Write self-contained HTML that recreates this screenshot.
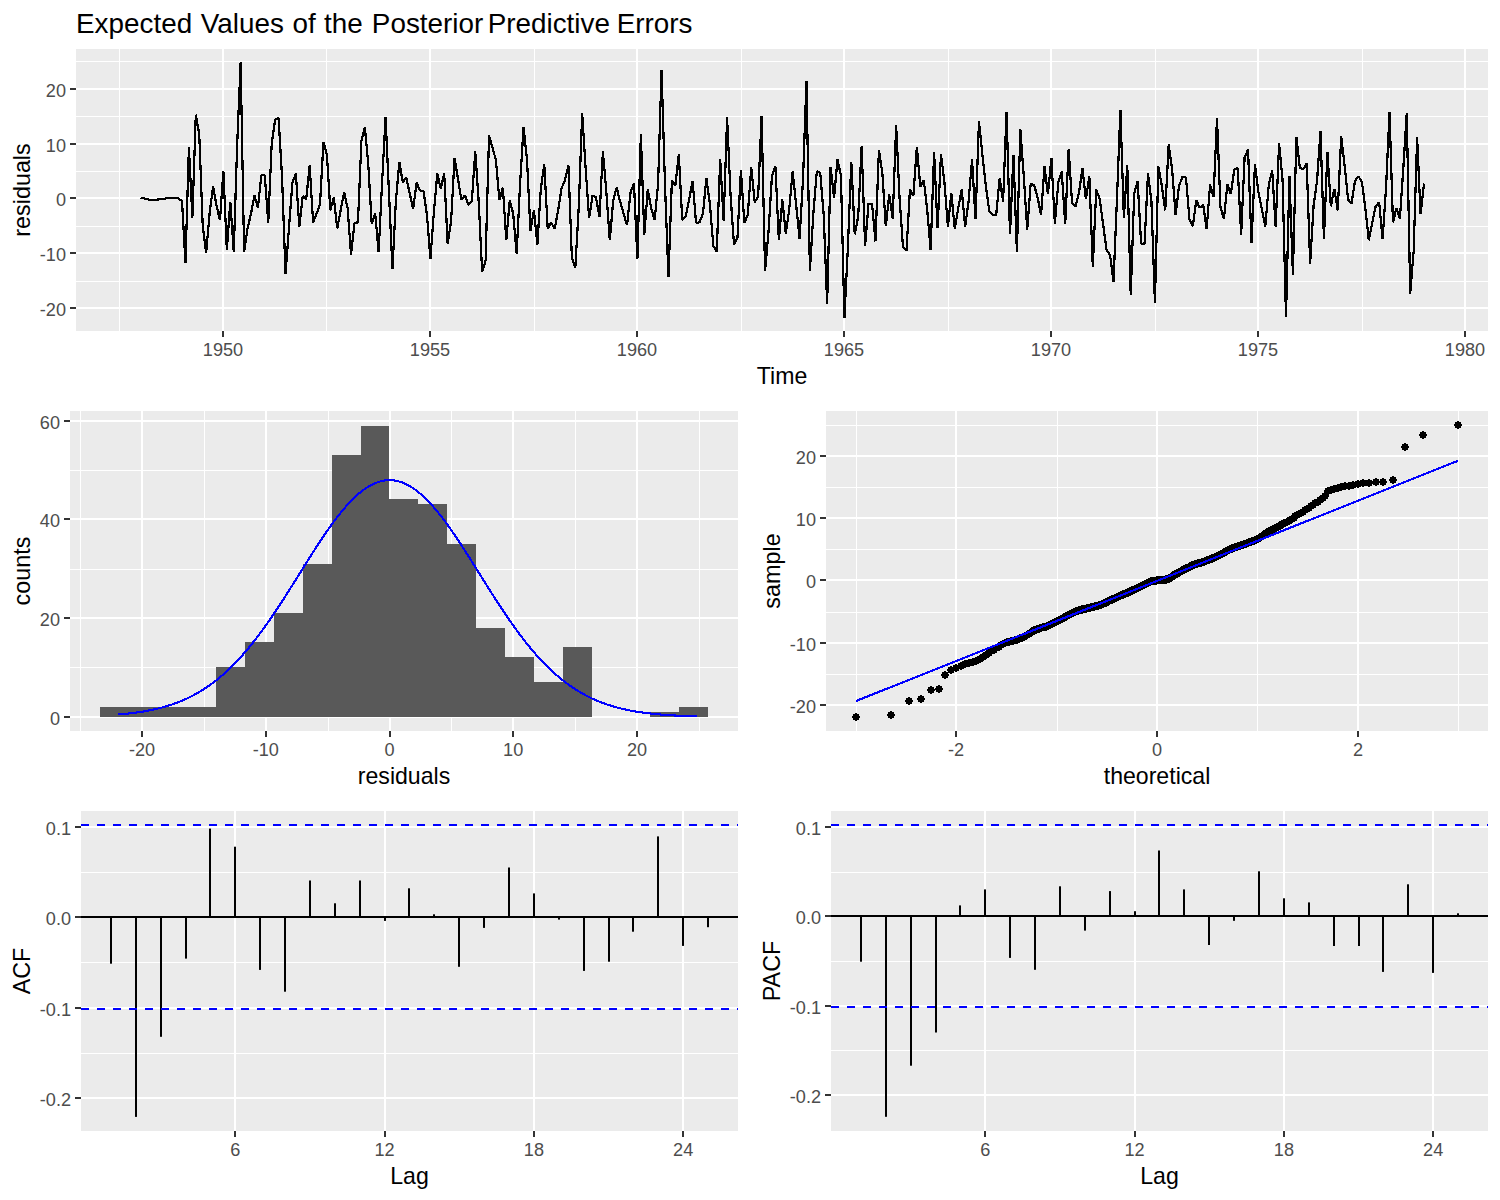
<!DOCTYPE html>
<html><head><meta charset="utf-8"><title>Residual diagnostics</title>
<style>html,body{margin:0;padding:0;background:#fff}svg{display:block}</style></head>
<body><svg width="1500" height="1200" viewBox="0 0 1500 1200">
<style>text{font-family:"Liberation Sans",sans-serif}.at{font-size:17.6px;fill:#4D4D4D}.ax{font-size:23.6px;fill:#000}.ti{font-size:28px;fill:#000}</style>
<rect width="1500" height="1200" fill="#fff"/>
<text transform="translate(76,33) scale(0.995,1)" class="ti">Expected <tspan dx="0.9">Values </tspan><tspan dx="0.9">of </tspan><tspan dx="0.6">the </tspan><tspan dx="1.3">Posterior </tspan><tspan dx="-3.4">Predictive </tspan><tspan dx="-1.0">Errors</tspan></text>
<rect x="76" y="49" width="1412" height="282" fill="#EBEBEB"/>
<rect x="76" y="281" width="1412" height="1" fill="#FFFFFF"/>
<rect x="76" y="226" width="1412" height="1" fill="#FFFFFF"/>
<rect x="76" y="171" width="1412" height="1" fill="#FFFFFF"/>
<rect x="76" y="116" width="1412" height="1" fill="#FFFFFF"/>
<rect x="76" y="61" width="1412" height="1" fill="#FFFFFF"/>
<rect x="119" y="49" width="1" height="282" fill="#FFFFFF"/>
<rect x="326" y="49" width="1" height="282" fill="#FFFFFF"/>
<rect x="534" y="49" width="1" height="282" fill="#FFFFFF"/>
<rect x="741" y="49" width="1" height="282" fill="#FFFFFF"/>
<rect x="948" y="49" width="1" height="282" fill="#FFFFFF"/>
<rect x="1155" y="49" width="1" height="282" fill="#FFFFFF"/>
<rect x="1362" y="49" width="1" height="282" fill="#FFFFFF"/>
<rect x="76" y="307" width="1412" height="2" fill="#FFFFFF"/>
<rect x="76" y="252" width="1412" height="2" fill="#FFFFFF"/>
<rect x="76" y="197" width="1412" height="2" fill="#FFFFFF"/>
<rect x="76" y="143" width="1412" height="2" fill="#FFFFFF"/>
<rect x="76" y="88" width="1412" height="2" fill="#FFFFFF"/>
<rect x="222" y="49" width="2" height="282" fill="#FFFFFF"/>
<rect x="429" y="49" width="2" height="282" fill="#FFFFFF"/>
<rect x="636" y="49" width="2" height="282" fill="#FFFFFF"/>
<rect x="843" y="49" width="2" height="282" fill="#FFFFFF"/>
<rect x="1050" y="49" width="2" height="282" fill="#FFFFFF"/>
<rect x="1257" y="49" width="2" height="282" fill="#FFFFFF"/>
<rect x="1464" y="49" width="2" height="282" fill="#FFFFFF"/>
<polyline points="140.60,197.60 144.05,198.43 147.50,199.26 150.95,200.07 154.40,200.07 157.85,199.53 161.30,198.99 164.75,198.71 168.20,197.88 171.65,197.88 175.10,197.88 178.55,198.43 182.00,201.16 185.45,262.66 188.90,147.02 192.35,217.49 195.80,114.67 199.25,134.30 202.70,225.65 206.15,252.86 209.60,213.68 213.05,186.27 216.50,205.52 219.95,220.21 223.40,171.34 226.85,250.14 230.30,201.71 233.75,251.77 237.20,143.70 240.65,61.87 244.10,251.77 247.55,228.37 251.00,213.68 254.45,195.67 257.90,207.69 261.35,175.21 264.80,175.21 268.25,222.93 271.70,143.70 275.15,119.37 278.60,118.27 282.05,176.87 285.50,274.09 288.95,228.37 292.40,182.95 295.85,173.55 299.30,226.74 302.75,196.22 306.20,199.53 309.65,165.54 313.10,222.39 316.55,213.68 320.00,204.43 323.45,142.04 326.90,154.76 330.35,210.41 333.80,197.33 337.25,228.37 340.70,209.87 344.15,192.35 347.60,208.24 351.05,254.50 354.50,222.93 357.95,222.39 361.40,140.93 364.85,127.39 368.30,164.71 371.75,224.02 375.20,213.68 378.65,252.05 382.10,182.40 385.55,117.16 389.00,193.46 392.45,268.65 395.90,200.62 399.35,162.22 402.80,182.40 406.25,177.42 409.70,193.46 413.15,208.78 416.60,182.68 420.05,190.69 423.50,191.25 426.95,214.77 430.40,258.85 433.85,212.59 437.30,173.55 440.75,188.48 444.20,173.55 447.65,243.61 451.10,221.30 454.55,158.07 458.00,179.08 461.45,200.07 464.90,195.12 468.35,204.97 471.80,201.43 475.25,151.44 478.70,201.71 482.15,271.91 485.60,260.48 489.05,135.41 492.50,147.57 495.95,160.28 499.40,200.07 502.85,187.65 506.30,240.07 509.75,200.35 513.20,213.68 516.65,253.95 520.10,182.95 523.55,127.39 527.00,159.73 530.45,230.82 533.90,210.41 537.35,244.70 540.80,189.03 544.25,164.15 547.70,228.92 551.15,222.39 554.60,228.92 558.05,210.96 561.50,188.48 564.95,180.19 568.40,165.54 571.85,257.22 575.30,268.10 578.75,207.15 582.20,113.29 585.65,168.58 589.10,218.03 592.55,195.67 596.00,197.33 599.45,216.94 602.90,151.44 606.35,191.80 609.80,240.35 613.25,200.07 616.70,187.65 620.15,201.71 623.60,213.68 627.05,225.11 630.50,192.63 633.95,183.51 637.40,258.85 640.85,134.30 644.30,234.90 647.75,189.59 651.20,208.24 654.65,220.21 658.10,183.51 661.55,69.61 665.00,185.16 668.45,276.81 671.90,180.19 675.35,185.72 678.80,154.20 682.25,220.21 685.70,216.40 689.15,199.53 692.60,180.74 696.05,222.93 699.50,222.39 702.95,213.68 706.40,178.25 709.85,203.34 713.30,245.79 716.75,251.77 720.20,159.46 723.65,220.75 727.10,117.44 730.55,195.12 734.00,244.70 737.45,238.17 740.90,170.24 744.35,222.93 747.80,214.77 751.25,167.20 754.70,202.25 758.15,196.22 761.60,116.06 765.05,270.82 768.50,232.18 771.95,175.77 775.40,166.37 778.85,240.07 782.30,199.53 785.75,233.54 789.20,209.87 792.65,171.34 796.10,204.43 799.55,238.71 803.00,179.64 806.45,80.67 809.90,270.82 813.35,213.68 816.80,171.34 820.25,173.00 823.70,214.77 827.15,304.02 830.60,167.20 834.05,197.60 837.50,159.46 840.95,175.77 844.40,317.90 847.85,247.96 851.30,162.22 854.75,234.36 858.20,216.40 861.65,146.46 865.10,246.06 868.55,203.61 872.00,203.61 875.45,241.43 878.90,150.06 882.35,173.00 885.80,226.20 889.25,194.56 892.70,218.85 896.15,125.45 899.60,198.99 903.05,247.42 906.50,250.69 909.95,189.59 913.40,195.67 916.85,146.74 920.30,186.55 923.75,179.91 927.20,209.87 930.65,250.14 934.10,151.99 937.55,228.37 941.00,154.20 944.45,182.40 947.90,226.74 951.35,193.46 954.80,228.92 958.25,208.24 961.70,189.59 965.15,226.74 968.60,201.16 972.05,159.46 975.50,218.85 978.95,121.31 982.40,154.76 985.85,185.72 989.30,211.50 992.75,214.77 996.20,214.77 999.65,178.25 1003.10,201.43 1006.55,111.91 1010.00,234.36 1013.45,155.31 1016.90,252.05 1020.35,129.05 1023.80,176.87 1027.25,229.46 1030.70,183.51 1034.15,185.16 1037.60,197.33 1041.05,214.77 1044.50,166.37 1047.95,194.29 1051.40,158.07 1054.85,224.02 1058.30,182.40 1061.75,171.34 1065.20,224.02 1068.65,149.50 1072.10,203.34 1075.55,206.33 1079.00,192.35 1082.45,168.30 1085.90,198.99 1089.35,176.59 1092.80,266.47 1096.25,189.59 1099.70,198.99 1103.15,224.56 1106.60,250.14 1110.05,255.04 1113.50,281.71 1116.95,198.99 1120.40,109.97 1123.85,218.03 1127.30,165.54 1130.75,295.31 1134.20,193.46 1137.65,181.29 1141.10,243.61 1144.55,243.61 1148.00,173.55 1151.45,201.71 1154.90,302.93 1158.35,166.37 1161.80,185.72 1165.25,210.41 1168.70,144.53 1172.15,169.68 1175.60,214.77 1179.05,185.72 1182.50,176.87 1185.95,177.42 1189.40,218.85 1192.85,226.20 1196.30,200.35 1199.75,207.69 1203.20,204.97 1206.65,228.92 1210.10,184.61 1213.55,196.77 1217.00,117.99 1220.45,207.15 1223.90,218.85 1227.35,184.33 1230.80,194.01 1234.25,169.68 1237.70,167.75 1241.15,234.90 1244.60,157.52 1248.05,149.50 1251.50,242.79 1254.95,164.15 1258.40,191.80 1261.85,209.33 1265.30,226.74 1268.75,185.16 1272.20,170.24 1275.65,226.74 1279.10,143.42 1282.55,179.64 1286.00,316.54 1289.45,176.32 1292.90,274.63 1296.35,137.06 1299.80,168.03 1303.25,169.13 1306.70,163.60 1310.15,263.75 1313.60,205.52 1317.05,180.74 1320.50,131.54 1323.95,239.26 1327.40,151.99 1330.85,206.33 1334.30,188.76 1337.75,210.41 1341.20,136.51 1344.65,165.81 1348.10,199.53 1351.55,203.34 1355.00,180.74 1358.45,176.32 1361.90,181.85 1365.35,208.24 1368.80,240.35 1372.25,222.39 1375.70,206.06 1379.15,202.25 1382.60,239.26 1386.05,187.93 1389.50,112.46 1392.95,222.39 1396.40,208.24 1399.85,218.85 1403.30,168.58 1406.75,113.29 1410.20,293.68 1413.65,251.23 1417.10,137.06 1420.55,214.22 1424.00,183.51" fill="none" stroke="#000" stroke-width="2.2" stroke-linejoin="bevel" stroke-linecap="butt" shape-rendering="crispEdges"/>
<rect x="70" y="307" width="6" height="2" fill="#333333"/>
<text transform="translate(66,315.8) scale(1.03,1)" text-anchor="end" class="at">-20</text>
<rect x="70" y="252" width="6" height="2" fill="#333333"/>
<text transform="translate(66,260.8) scale(1.03,1)" text-anchor="end" class="at">-10</text>
<rect x="70" y="197" width="6" height="2" fill="#333333"/>
<text transform="translate(66,205.8) scale(1.03,1)" text-anchor="end" class="at">0</text>
<rect x="70" y="143" width="6" height="2" fill="#333333"/>
<text transform="translate(66,151.8) scale(1.03,1)" text-anchor="end" class="at">10</text>
<rect x="70" y="88" width="6" height="2" fill="#333333"/>
<text transform="translate(66,96.8) scale(1.03,1)" text-anchor="end" class="at">20</text>
<rect x="222" y="331" width="2" height="6" fill="#333333"/>
<text transform="translate(223.0,356) scale(1.03,1)" text-anchor="middle" class="at">1950</text>
<rect x="429" y="331" width="2" height="6" fill="#333333"/>
<text transform="translate(430.0,356) scale(1.03,1)" text-anchor="middle" class="at">1955</text>
<rect x="636" y="331" width="2" height="6" fill="#333333"/>
<text transform="translate(637.0,356) scale(1.03,1)" text-anchor="middle" class="at">1960</text>
<rect x="843" y="331" width="2" height="6" fill="#333333"/>
<text transform="translate(844.0,356) scale(1.03,1)" text-anchor="middle" class="at">1965</text>
<rect x="1050" y="331" width="2" height="6" fill="#333333"/>
<text transform="translate(1051.0,356) scale(1.03,1)" text-anchor="middle" class="at">1970</text>
<rect x="1257" y="331" width="2" height="6" fill="#333333"/>
<text transform="translate(1258.0,356) scale(1.03,1)" text-anchor="middle" class="at">1975</text>
<rect x="1464" y="331" width="2" height="6" fill="#333333"/>
<text transform="translate(1465.0,356) scale(1.03,1)" text-anchor="middle" class="at">1980</text>
<text transform="translate(782,384) scale(0.979,1)" text-anchor="middle" class="ax">Time</text>
<text transform="translate(30,190) rotate(-90) scale(0.99,1)" text-anchor="middle" class="ax">residuals</text>
<rect x="70" y="411" width="668" height="320" fill="#EBEBEB"/>
<rect x="70" y="667" width="668" height="1" fill="#FFFFFF"/>
<rect x="70" y="569" width="668" height="1" fill="#FFFFFF"/>
<rect x="70" y="470" width="668" height="1" fill="#FFFFFF"/>
<rect x="80" y="411" width="1" height="320" fill="#FFFFFF"/>
<rect x="204" y="411" width="1" height="320" fill="#FFFFFF"/>
<rect x="328" y="411" width="1" height="320" fill="#FFFFFF"/>
<rect x="451" y="411" width="1" height="320" fill="#FFFFFF"/>
<rect x="575" y="411" width="1" height="320" fill="#FFFFFF"/>
<rect x="699" y="411" width="1" height="320" fill="#FFFFFF"/>
<rect x="70" y="716" width="668" height="2" fill="#FFFFFF"/>
<rect x="70" y="617" width="668" height="2" fill="#FFFFFF"/>
<rect x="70" y="518" width="668" height="2" fill="#FFFFFF"/>
<rect x="70" y="420" width="668" height="2" fill="#FFFFFF"/>
<rect x="141" y="411" width="2" height="320" fill="#FFFFFF"/>
<rect x="265" y="411" width="2" height="320" fill="#FFFFFF"/>
<rect x="389" y="411" width="2" height="320" fill="#FFFFFF"/>
<rect x="512" y="411" width="2" height="320" fill="#FFFFFF"/>
<rect x="636" y="411" width="2" height="320" fill="#FFFFFF"/>
<rect x="100" y="707" width="29" height="10" fill="#595959"/>
<rect x="129" y="707" width="29" height="10" fill="#595959"/>
<rect x="158" y="707" width="29" height="10" fill="#595959"/>
<rect x="187" y="707" width="29" height="10" fill="#595959"/>
<rect x="216" y="667" width="29" height="50" fill="#595959"/>
<rect x="245" y="642" width="29" height="75" fill="#595959"/>
<rect x="274" y="613" width="29" height="104" fill="#595959"/>
<rect x="303" y="564" width="29" height="153" fill="#595959"/>
<rect x="332" y="455" width="29" height="262" fill="#595959"/>
<rect x="361" y="426" width="28" height="291" fill="#595959"/>
<rect x="389" y="499" width="29" height="218" fill="#595959"/>
<rect x="418" y="504" width="29" height="213" fill="#595959"/>
<rect x="447" y="544" width="29" height="173" fill="#595959"/>
<rect x="476" y="628" width="29" height="89" fill="#595959"/>
<rect x="505" y="657" width="29" height="60" fill="#595959"/>
<rect x="534" y="682" width="29" height="35" fill="#595959"/>
<rect x="563" y="647" width="29" height="70" fill="#595959"/>
<rect x="650" y="712" width="29" height="5" fill="#595959"/>
<rect x="679" y="707" width="29" height="10" fill="#595959"/>
<polyline points="118.49,714.53 121.38,714.28 124.27,714.00 127.17,713.70 130.06,713.38 132.95,713.03 135.84,712.65 138.74,712.23 141.63,711.79 144.52,711.31 147.41,710.78 150.31,710.22 153.20,709.62 156.09,708.97 158.98,708.27 161.88,707.52 164.77,706.72 167.66,705.86 170.56,704.94 173.45,703.96 176.34,702.92 179.23,701.80 182.13,700.62 185.02,699.36 187.91,698.02 190.80,696.61 193.70,695.11 196.59,693.53 199.48,691.86 202.37,690.09 205.27,688.24 208.16,686.28 211.05,684.23 213.95,682.08 216.84,679.83 219.73,677.47 222.62,675.00 225.52,672.43 228.41,669.75 231.30,666.96 234.19,664.06 237.09,661.05 239.98,657.93 242.87,654.70 245.76,651.36 248.66,647.92 251.55,644.37 254.44,640.72 257.34,636.97 260.23,633.12 263.12,629.18 266.01,625.14 268.91,621.03 271.80,616.83 274.69,612.55 277.58,608.21 280.48,603.80 283.37,599.34 286.26,594.83 289.15,590.28 292.05,585.70 294.94,581.09 297.83,576.46 300.72,571.83 303.62,567.20 306.51,562.59 309.40,558.00 312.30,553.44 315.19,548.92 318.08,544.47 320.97,540.07 323.87,535.75 326.76,531.53 329.65,527.39 332.54,523.37 335.44,519.47 338.33,515.70 341.22,512.07 344.11,508.59 347.01,505.28 349.90,502.13 352.79,499.17 355.69,496.39 358.58,493.81 361.47,491.43 364.36,489.26 367.26,487.32 370.15,485.59 373.04,484.10 375.93,482.84 378.83,481.82 381.72,481.04 384.61,480.50 387.50,480.21 390.40,480.16 393.29,480.36 396.18,480.80 399.08,481.49 401.97,482.42 404.86,483.59 407.75,485.00 410.65,486.64 413.54,488.50 416.43,490.58 419.32,492.88 422.22,495.38 425.11,498.09 428.00,500.98 430.89,504.06 433.79,507.32 436.68,510.73 439.57,514.31 442.47,518.02 445.36,521.88 448.25,525.85 451.14,529.94 454.04,534.14 456.93,538.42 459.82,542.79 462.71,547.22 465.61,551.72 468.50,556.26 471.39,560.84 474.28,565.45 477.18,570.07 480.07,574.70 482.96,579.33 485.85,583.95 488.75,588.54 491.64,593.11 494.53,597.64 497.43,602.12 500.32,606.54 503.21,610.91 506.10,615.21 509.00,619.44 511.89,623.59 514.78,627.66 517.67,631.63 520.57,635.52 523.46,639.31 526.35,643.00 529.24,646.59 532.14,650.07 535.03,653.45 537.92,656.72 540.82,659.88 543.71,662.93 546.60,665.87 549.49,668.70 552.39,671.42 555.28,674.04 558.17,676.54 561.06,678.94 563.96,681.24 566.85,683.43 569.74,685.52 572.63,687.51 575.53,689.40 578.42,691.20 581.31,692.90 584.21,694.52 587.10,696.05 589.99,697.50 592.88,698.86 595.78,700.15 598.67,701.36 601.56,702.50 604.45,703.57 607.35,704.58 610.24,705.52 613.13,706.40 616.02,707.22 618.92,707.99 621.81,708.71 624.70,709.38 627.60,710.00 630.49,710.58 633.38,711.11 636.27,711.61 639.17,712.07 642.06,712.49 644.95,712.89 647.84,713.25 650.74,713.58 653.63,713.89 656.52,714.17 659.41,714.43 662.31,714.67 665.20,714.89 668.09,715.09 670.98,715.27 673.88,715.44 676.77,715.59 679.66,715.73 682.56,715.86 685.45,715.97 688.34,716.08 691.23,716.17 694.13,716.26 697.02,716.33" fill="none" stroke="#0000FF" stroke-width="2.1" shape-rendering="crispEdges"/>
<rect x="64" y="716" width="6" height="2" fill="#333333"/>
<text transform="translate(60,724.8) scale(1.03,1)" text-anchor="end" class="at">0</text>
<rect x="64" y="617" width="6" height="2" fill="#333333"/>
<text transform="translate(60,625.8) scale(1.03,1)" text-anchor="end" class="at">20</text>
<rect x="64" y="518" width="6" height="2" fill="#333333"/>
<text transform="translate(60,526.8) scale(1.03,1)" text-anchor="end" class="at">40</text>
<rect x="64" y="420" width="6" height="2" fill="#333333"/>
<text transform="translate(60,428.8) scale(1.03,1)" text-anchor="end" class="at">60</text>
<rect x="141" y="731" width="2" height="6" fill="#333333"/>
<text transform="translate(142.0,756) scale(1.03,1)" text-anchor="middle" class="at">-20</text>
<rect x="265" y="731" width="2" height="6" fill="#333333"/>
<text transform="translate(265.8,756) scale(1.03,1)" text-anchor="middle" class="at">-10</text>
<rect x="389" y="731" width="2" height="6" fill="#333333"/>
<text transform="translate(389.5,756) scale(1.03,1)" text-anchor="middle" class="at">0</text>
<rect x="512" y="731" width="2" height="6" fill="#333333"/>
<text transform="translate(513.2,756) scale(1.03,1)" text-anchor="middle" class="at">10</text>
<rect x="636" y="731" width="2" height="6" fill="#333333"/>
<text transform="translate(637.0,756) scale(1.03,1)" text-anchor="middle" class="at">20</text>
<text transform="translate(404,784) scale(0.979,1)" text-anchor="middle" class="ax">residuals</text>
<text transform="translate(30,571) rotate(-90) scale(0.99,1)" text-anchor="middle" class="ax">counts</text>
<rect x="826" y="411" width="662" height="320" fill="#EBEBEB"/>
<rect x="826" y="674" width="662" height="1" fill="#FFFFFF"/>
<rect x="826" y="612" width="662" height="1" fill="#FFFFFF"/>
<rect x="826" y="549" width="662" height="1" fill="#FFFFFF"/>
<rect x="826" y="487" width="662" height="1" fill="#FFFFFF"/>
<rect x="826" y="425" width="662" height="1" fill="#FFFFFF"/>
<rect x="856" y="411" width="1" height="320" fill="#FFFFFF"/>
<rect x="1057" y="411" width="1" height="320" fill="#FFFFFF"/>
<rect x="1257" y="411" width="1" height="320" fill="#FFFFFF"/>
<rect x="1458" y="411" width="1" height="320" fill="#FFFFFF"/>
<rect x="826" y="704" width="662" height="2" fill="#FFFFFF"/>
<rect x="826" y="642" width="662" height="2" fill="#FFFFFF"/>
<rect x="826" y="579" width="662" height="2" fill="#FFFFFF"/>
<rect x="826" y="517" width="662" height="2" fill="#FFFFFF"/>
<rect x="826" y="455" width="662" height="2" fill="#FFFFFF"/>
<rect x="955" y="411" width="2" height="320" fill="#FFFFFF"/>
<rect x="1156" y="411" width="2" height="320" fill="#FFFFFF"/>
<rect x="1357" y="411" width="2" height="320" fill="#FFFFFF"/>
<path fill="#000" d="M855 713h2v1h2v2h1v2h-1v2h-2v1h-2v-1h-2v-2h-1v-2h1v-2h2zM890 711h2v1h2v2h1v2h-1v2h-2v1h-2v-1h-2v-2h-1v-2h1v-2h2zM908 697h2v1h2v2h1v2h-1v2h-2v1h-2v-1h-2v-2h-1v-2h1v-2h2zM920 695h2v1h2v2h1v2h-1v2h-2v1h-2v-1h-2v-2h-1v-2h1v-2h2zM930 686h2v1h2v2h1v2h-1v2h-2v1h-2v-1h-2v-2h-1v-2h1v-2h2zM938 685h2v1h2v2h1v2h-1v2h-2v1h-2v-1h-2v-2h-1v-2h1v-2h2zM944 671h2v1h2v2h1v2h-1v2h-2v1h-2v-1h-2v-2h-1v-2h1v-2h2zM950 666h2v1h2v2h1v2h-1v2h-2v1h-2v-1h-2v-2h-1v-2h1v-2h2zM955 664h2v1h2v2h1v2h-1v2h-2v1h-2v-1h-2v-2h-1v-2h1v-2h2zM960 662h2v1h2v2h1v2h-1v2h-2v1h-2v-1h-2v-2h-1v-2h1v-2h2zM964 660h2v1h2v2h1v2h-1v2h-2v1h-2v-1h-2v-2h-1v-2h1v-2h2zM968 659h2v1h2v2h1v2h-1v2h-2v1h-2v-1h-2v-2h-1v-2h1v-2h2zM972 658h2v1h2v2h1v2h-1v2h-2v1h-2v-1h-2v-2h-1v-2h1v-2h2zM975 657h2v1h2v2h1v2h-1v2h-2v1h-2v-1h-2v-2h-1v-2h1v-2h2zM979 655h2v1h2v2h1v2h-1v2h-2v1h-2v-1h-2v-2h-1v-2h1v-2h2zM982 653h2v1h2v2h1v2h-1v2h-2v1h-2v-1h-2v-2h-1v-2h1v-2h2zM985 651h2v1h2v2h1v2h-1v2h-2v1h-2v-1h-2v-2h-1v-2h1v-2h2zM988 649h2v1h2v2h1v2h-1v2h-2v1h-2v-1h-2v-2h-1v-2h1v-2h2zM990 647h2v1h2v2h1v2h-1v2h-2v1h-2v-1h-2v-2h-1v-2h1v-2h2zM993 646h2v1h2v2h1v2h-1v2h-2v1h-2v-1h-2v-2h-1v-2h1v-2h2zM995 644h2v1h2v2h1v2h-1v2h-2v1h-2v-1h-2v-2h-1v-2h1v-2h2zM998 643h2v1h2v2h1v2h-1v2h-2v1h-2v-1h-2v-2h-1v-2h1v-2h2zM1000 641h2v1h2v2h1v2h-1v2h-2v1h-2v-1h-2v-2h-1v-2h1v-2h2zM1002 640h2v1h2v2h1v2h-1v2h-2v1h-2v-1h-2v-2h-1v-2h1v-2h2zM1004 639h2v1h2v2h1v2h-1v2h-2v1h-2v-1h-2v-2h-1v-2h1v-2h2zM1006 638h2v1h2v2h1v2h-1v2h-2v1h-2v-1h-2v-2h-1v-2h1v-2h2zM1008 638h2v1h2v2h1v2h-1v2h-2v1h-2v-1h-2v-2h-1v-2h1v-2h2zM1010 637h2v1h2v2h1v2h-1v2h-2v1h-2v-1h-2v-2h-1v-2h1v-2h2zM1012 637h2v1h2v2h1v2h-1v2h-2v1h-2v-1h-2v-2h-1v-2h1v-2h2zM1014 636h2v1h2v2h1v2h-1v2h-2v1h-2v-1h-2v-2h-1v-2h1v-2h2zM1016 636h2v1h2v2h1v2h-1v2h-2v1h-2v-1h-2v-2h-1v-2h1v-2h2zM1018 635h2v1h2v2h1v2h-1v2h-2v1h-2v-1h-2v-2h-1v-2h1v-2h2zM1019 634h2v1h2v2h1v2h-1v2h-2v1h-2v-1h-2v-2h-1v-2h1v-2h2zM1021 634h2v1h2v2h1v2h-1v2h-2v1h-2v-1h-2v-2h-1v-2h1v-2h2zM1023 633h2v1h2v2h1v2h-1v2h-2v1h-2v-1h-2v-2h-1v-2h1v-2h2zM1024 632h2v1h2v2h1v2h-1v2h-2v1h-2v-1h-2v-2h-1v-2h1v-2h2zM1026 631h2v1h2v2h1v2h-1v2h-2v1h-2v-1h-2v-2h-1v-2h1v-2h2zM1028 630h2v1h2v2h1v2h-1v2h-2v1h-2v-1h-2v-2h-1v-2h1v-2h2zM1029 629h2v1h2v2h1v2h-1v2h-2v1h-2v-1h-2v-2h-1v-2h1v-2h2zM1031 628h2v1h2v2h1v2h-1v2h-2v1h-2v-1h-2v-2h-1v-2h1v-2h2zM1032 627h2v1h2v2h1v2h-1v2h-2v1h-2v-1h-2v-2h-1v-2h1v-2h2zM1033 626h2v1h2v2h1v2h-1v2h-2v1h-2v-1h-2v-2h-1v-2h1v-2h2zM1035 626h2v1h2v2h1v2h-1v2h-2v1h-2v-1h-2v-2h-1v-2h1v-2h2zM1036 625h2v1h2v2h1v2h-1v2h-2v1h-2v-1h-2v-2h-1v-2h1v-2h2zM1038 625h2v1h2v2h1v2h-1v2h-2v1h-2v-1h-2v-2h-1v-2h1v-2h2zM1039 624h2v1h2v2h1v2h-1v2h-2v1h-2v-1h-2v-2h-1v-2h1v-2h2zM1040 624h2v1h2v2h1v2h-1v2h-2v1h-2v-1h-2v-2h-1v-2h1v-2h2zM1042 623h2v1h2v2h1v2h-1v2h-2v1h-2v-1h-2v-2h-1v-2h1v-2h2zM1043 623h2v1h2v2h1v2h-1v2h-2v1h-2v-1h-2v-2h-1v-2h1v-2h2zM1044 623h2v1h2v2h1v2h-1v2h-2v1h-2v-1h-2v-2h-1v-2h1v-2h2zM1045 623h2v1h2v2h1v2h-1v2h-2v1h-2v-1h-2v-2h-1v-2h1v-2h2zM1047 622h2v1h2v2h1v2h-1v2h-2v1h-2v-1h-2v-2h-1v-2h1v-2h2zM1048 621h2v1h2v2h1v2h-1v2h-2v1h-2v-1h-2v-2h-1v-2h1v-2h2zM1049 621h2v1h2v2h1v2h-1v2h-2v1h-2v-1h-2v-2h-1v-2h1v-2h2zM1050 620h2v1h2v2h1v2h-1v2h-2v1h-2v-1h-2v-2h-1v-2h1v-2h2zM1051 620h2v1h2v2h1v2h-1v2h-2v1h-2v-1h-2v-2h-1v-2h1v-2h2zM1052 619h2v1h2v2h1v2h-1v2h-2v1h-2v-1h-2v-2h-1v-2h1v-2h2zM1054 618h2v1h2v2h1v2h-1v2h-2v1h-2v-1h-2v-2h-1v-2h1v-2h2zM1055 618h2v1h2v2h1v2h-1v2h-2v1h-2v-1h-2v-2h-1v-2h1v-2h2zM1056 617h2v1h2v2h1v2h-1v2h-2v1h-2v-1h-2v-2h-1v-2h1v-2h2zM1057 617h2v1h2v2h1v2h-1v2h-2v1h-2v-1h-2v-2h-1v-2h1v-2h2zM1058 616h2v1h2v2h1v2h-1v2h-2v1h-2v-1h-2v-2h-1v-2h1v-2h2zM1059 616h2v1h2v2h1v2h-1v2h-2v1h-2v-1h-2v-2h-1v-2h1v-2h2zM1060 615h2v1h2v2h1v2h-1v2h-2v1h-2v-1h-2v-2h-1v-2h1v-2h2zM1061 615h2v1h2v2h1v2h-1v2h-2v1h-2v-1h-2v-2h-1v-2h1v-2h2zM1062 614h2v1h2v2h1v2h-1v2h-2v1h-2v-1h-2v-2h-1v-2h1v-2h2zM1063 614h2v1h2v2h1v2h-1v2h-2v1h-2v-1h-2v-2h-1v-2h1v-2h2zM1064 613h2v1h2v2h1v2h-1v2h-2v1h-2v-1h-2v-2h-1v-2h1v-2h2zM1065 612h2v1h2v2h1v2h-1v2h-2v1h-2v-1h-2v-2h-1v-2h1v-2h2zM1066 612h2v1h2v2h1v2h-1v2h-2v1h-2v-1h-2v-2h-1v-2h1v-2h2zM1067 611h2v1h2v2h1v2h-1v2h-2v1h-2v-1h-2v-2h-1v-2h1v-2h2zM1068 611h2v1h2v2h1v2h-1v2h-2v1h-2v-1h-2v-2h-1v-2h1v-2h2zM1069 610h2v1h2v2h1v2h-1v2h-2v1h-2v-1h-2v-2h-1v-2h1v-2h2zM1070 610h2v1h2v2h1v2h-1v2h-2v1h-2v-1h-2v-2h-1v-2h1v-2h2zM1071 609h2v1h2v2h1v2h-1v2h-2v1h-2v-1h-2v-2h-1v-2h1v-2h2zM1072 609h2v1h2v2h1v2h-1v2h-2v1h-2v-1h-2v-2h-1v-2h1v-2h2zM1073 608h2v1h2v2h1v2h-1v2h-2v1h-2v-1h-2v-2h-1v-2h1v-2h2zM1074 608h2v1h2v2h1v2h-1v2h-2v1h-2v-1h-2v-2h-1v-2h1v-2h2zM1075 607h2v1h2v2h1v2h-1v2h-2v1h-2v-1h-2v-2h-1v-2h1v-2h2zM1076 607h2v1h2v2h1v2h-1v2h-2v1h-2v-1h-2v-2h-1v-2h1v-2h2zM1077 607h2v1h2v2h1v2h-1v2h-2v1h-2v-1h-2v-2h-1v-2h1v-2h2zM1078 606h2v1h2v2h1v2h-1v2h-2v1h-2v-1h-2v-2h-1v-2h1v-2h2zM1079 606h2v1h2v2h1v2h-1v2h-2v1h-2v-1h-2v-2h-1v-2h1v-2h2zM1080 606h2v1h2v2h1v2h-1v2h-2v1h-2v-1h-2v-2h-1v-2h1v-2h2zM1081 606h2v1h2v2h1v2h-1v2h-2v1h-2v-1h-2v-2h-1v-2h1v-2h2zM1081 605h2v1h2v2h1v2h-1v2h-2v1h-2v-1h-2v-2h-1v-2h1v-2h2zM1082 605h2v1h2v2h1v2h-1v2h-2v1h-2v-1h-2v-2h-1v-2h1v-2h2zM1083 605h2v1h2v2h1v2h-1v2h-2v1h-2v-1h-2v-2h-1v-2h1v-2h2zM1084 605h2v1h2v2h1v2h-1v2h-2v1h-2v-1h-2v-2h-1v-2h1v-2h2zM1085 605h2v1h2v2h1v2h-1v2h-2v1h-2v-1h-2v-2h-1v-2h1v-2h2zM1086 604h2v1h2v2h1v2h-1v2h-2v1h-2v-1h-2v-2h-1v-2h1v-2h2zM1087 604h2v1h2v2h1v2h-1v2h-2v1h-2v-1h-2v-2h-1v-2h1v-2h2zM1088 604h2v1h2v2h1v2h-1v2h-2v1h-2v-1h-2v-2h-1v-2h1v-2h2zM1088 604h2v1h2v2h1v2h-1v2h-2v1h-2v-1h-2v-2h-1v-2h1v-2h2zM1089 604h2v1h2v2h1v2h-1v2h-2v1h-2v-1h-2v-2h-1v-2h1v-2h2zM1090 603h2v1h2v2h1v2h-1v2h-2v1h-2v-1h-2v-2h-1v-2h1v-2h2zM1091 603h2v1h2v2h1v2h-1v2h-2v1h-2v-1h-2v-2h-1v-2h1v-2h2zM1092 603h2v1h2v2h1v2h-1v2h-2v1h-2v-1h-2v-2h-1v-2h1v-2h2zM1093 603h2v1h2v2h1v2h-1v2h-2v1h-2v-1h-2v-2h-1v-2h1v-2h2zM1093 603h2v1h2v2h1v2h-1v2h-2v1h-2v-1h-2v-2h-1v-2h1v-2h2zM1094 602h2v1h2v2h1v2h-1v2h-2v1h-2v-1h-2v-2h-1v-2h1v-2h2zM1095 602h2v1h2v2h1v2h-1v2h-2v1h-2v-1h-2v-2h-1v-2h1v-2h2zM1096 602h2v1h2v2h1v2h-1v2h-2v1h-2v-1h-2v-2h-1v-2h1v-2h2zM1097 602h2v1h2v2h1v2h-1v2h-2v1h-2v-1h-2v-2h-1v-2h1v-2h2zM1097 602h2v1h2v2h1v2h-1v2h-2v1h-2v-1h-2v-2h-1v-2h1v-2h2zM1098 601h2v1h2v2h1v2h-1v2h-2v1h-2v-1h-2v-2h-1v-2h1v-2h2zM1099 601h2v1h2v2h1v2h-1v2h-2v1h-2v-1h-2v-2h-1v-2h1v-2h2zM1100 601h2v1h2v2h1v2h-1v2h-2v1h-2v-1h-2v-2h-1v-2h1v-2h2zM1101 600h2v1h2v2h1v2h-1v2h-2v1h-2v-1h-2v-2h-1v-2h1v-2h2zM1101 600h2v1h2v2h1v2h-1v2h-2v1h-2v-1h-2v-2h-1v-2h1v-2h2zM1102 600h2v1h2v2h1v2h-1v2h-2v1h-2v-1h-2v-2h-1v-2h1v-2h2zM1103 599h2v1h2v2h1v2h-1v2h-2v1h-2v-1h-2v-2h-1v-2h1v-2h2zM1104 599h2v1h2v2h1v2h-1v2h-2v1h-2v-1h-2v-2h-1v-2h1v-2h2zM1105 599h2v1h2v2h1v2h-1v2h-2v1h-2v-1h-2v-2h-1v-2h1v-2h2zM1105 598h2v1h2v2h1v2h-1v2h-2v1h-2v-1h-2v-2h-1v-2h1v-2h2zM1106 598h2v1h2v2h1v2h-1v2h-2v1h-2v-1h-2v-2h-1v-2h1v-2h2zM1107 597h2v1h2v2h1v2h-1v2h-2v1h-2v-1h-2v-2h-1v-2h1v-2h2zM1108 597h2v1h2v2h1v2h-1v2h-2v1h-2v-1h-2v-2h-1v-2h1v-2h2zM1108 597h2v1h2v2h1v2h-1v2h-2v1h-2v-1h-2v-2h-1v-2h1v-2h2zM1109 596h2v1h2v2h1v2h-1v2h-2v1h-2v-1h-2v-2h-1v-2h1v-2h2zM1110 596h2v1h2v2h1v2h-1v2h-2v1h-2v-1h-2v-2h-1v-2h1v-2h2zM1111 596h2v1h2v2h1v2h-1v2h-2v1h-2v-1h-2v-2h-1v-2h1v-2h2zM1111 595h2v1h2v2h1v2h-1v2h-2v1h-2v-1h-2v-2h-1v-2h1v-2h2zM1112 595h2v1h2v2h1v2h-1v2h-2v1h-2v-1h-2v-2h-1v-2h1v-2h2zM1113 595h2v1h2v2h1v2h-1v2h-2v1h-2v-1h-2v-2h-1v-2h1v-2h2zM1114 594h2v1h2v2h1v2h-1v2h-2v1h-2v-1h-2v-2h-1v-2h1v-2h2zM1114 594h2v1h2v2h1v2h-1v2h-2v1h-2v-1h-2v-2h-1v-2h1v-2h2zM1115 594h2v1h2v2h1v2h-1v2h-2v1h-2v-1h-2v-2h-1v-2h1v-2h2zM1116 593h2v1h2v2h1v2h-1v2h-2v1h-2v-1h-2v-2h-1v-2h1v-2h2zM1117 593h2v1h2v2h1v2h-1v2h-2v1h-2v-1h-2v-2h-1v-2h1v-2h2zM1117 593h2v1h2v2h1v2h-1v2h-2v1h-2v-1h-2v-2h-1v-2h1v-2h2zM1118 592h2v1h2v2h1v2h-1v2h-2v1h-2v-1h-2v-2h-1v-2h1v-2h2zM1119 592h2v1h2v2h1v2h-1v2h-2v1h-2v-1h-2v-2h-1v-2h1v-2h2zM1119 592h2v1h2v2h1v2h-1v2h-2v1h-2v-1h-2v-2h-1v-2h1v-2h2zM1120 591h2v1h2v2h1v2h-1v2h-2v1h-2v-1h-2v-2h-1v-2h1v-2h2zM1121 591h2v1h2v2h1v2h-1v2h-2v1h-2v-1h-2v-2h-1v-2h1v-2h2zM1122 591h2v1h2v2h1v2h-1v2h-2v1h-2v-1h-2v-2h-1v-2h1v-2h2zM1122 590h2v1h2v2h1v2h-1v2h-2v1h-2v-1h-2v-2h-1v-2h1v-2h2zM1123 590h2v1h2v2h1v2h-1v2h-2v1h-2v-1h-2v-2h-1v-2h1v-2h2zM1124 590h2v1h2v2h1v2h-1v2h-2v1h-2v-1h-2v-2h-1v-2h1v-2h2zM1124 590h2v1h2v2h1v2h-1v2h-2v1h-2v-1h-2v-2h-1v-2h1v-2h2zM1125 589h2v1h2v2h1v2h-1v2h-2v1h-2v-1h-2v-2h-1v-2h1v-2h2zM1126 589h2v1h2v2h1v2h-1v2h-2v1h-2v-1h-2v-2h-1v-2h1v-2h2zM1127 589h2v1h2v2h1v2h-1v2h-2v1h-2v-1h-2v-2h-1v-2h1v-2h2zM1127 588h2v1h2v2h1v2h-1v2h-2v1h-2v-1h-2v-2h-1v-2h1v-2h2zM1128 588h2v1h2v2h1v2h-1v2h-2v1h-2v-1h-2v-2h-1v-2h1v-2h2zM1129 588h2v1h2v2h1v2h-1v2h-2v1h-2v-1h-2v-2h-1v-2h1v-2h2zM1129 587h2v1h2v2h1v2h-1v2h-2v1h-2v-1h-2v-2h-1v-2h1v-2h2zM1130 587h2v1h2v2h1v2h-1v2h-2v1h-2v-1h-2v-2h-1v-2h1v-2h2zM1131 587h2v1h2v2h1v2h-1v2h-2v1h-2v-1h-2v-2h-1v-2h1v-2h2zM1131 586h2v1h2v2h1v2h-1v2h-2v1h-2v-1h-2v-2h-1v-2h1v-2h2zM1132 586h2v1h2v2h1v2h-1v2h-2v1h-2v-1h-2v-2h-1v-2h1v-2h2zM1133 586h2v1h2v2h1v2h-1v2h-2v1h-2v-1h-2v-2h-1v-2h1v-2h2zM1134 585h2v1h2v2h1v2h-1v2h-2v1h-2v-1h-2v-2h-1v-2h1v-2h2zM1134 585h2v1h2v2h1v2h-1v2h-2v1h-2v-1h-2v-2h-1v-2h1v-2h2zM1135 585h2v1h2v2h1v2h-1v2h-2v1h-2v-1h-2v-2h-1v-2h1v-2h2zM1136 584h2v1h2v2h1v2h-1v2h-2v1h-2v-1h-2v-2h-1v-2h1v-2h2zM1136 584h2v1h2v2h1v2h-1v2h-2v1h-2v-1h-2v-2h-1v-2h1v-2h2zM1137 584h2v1h2v2h1v2h-1v2h-2v1h-2v-1h-2v-2h-1v-2h1v-2h2zM1138 583h2v1h2v2h1v2h-1v2h-2v1h-2v-1h-2v-2h-1v-2h1v-2h2zM1138 583h2v1h2v2h1v2h-1v2h-2v1h-2v-1h-2v-2h-1v-2h1v-2h2zM1139 583h2v1h2v2h1v2h-1v2h-2v1h-2v-1h-2v-2h-1v-2h1v-2h2zM1140 582h2v1h2v2h1v2h-1v2h-2v1h-2v-1h-2v-2h-1v-2h1v-2h2zM1140 582h2v1h2v2h1v2h-1v2h-2v1h-2v-1h-2v-2h-1v-2h1v-2h2zM1141 582h2v1h2v2h1v2h-1v2h-2v1h-2v-1h-2v-2h-1v-2h1v-2h2zM1142 581h2v1h2v2h1v2h-1v2h-2v1h-2v-1h-2v-2h-1v-2h1v-2h2zM1142 581h2v1h2v2h1v2h-1v2h-2v1h-2v-1h-2v-2h-1v-2h1v-2h2zM1143 581h2v1h2v2h1v2h-1v2h-2v1h-2v-1h-2v-2h-1v-2h1v-2h2zM1144 580h2v1h2v2h1v2h-1v2h-2v1h-2v-1h-2v-2h-1v-2h1v-2h2zM1144 580h2v1h2v2h1v2h-1v2h-2v1h-2v-1h-2v-2h-1v-2h1v-2h2zM1145 580h2v1h2v2h1v2h-1v2h-2v1h-2v-1h-2v-2h-1v-2h1v-2h2zM1146 579h2v1h2v2h1v2h-1v2h-2v1h-2v-1h-2v-2h-1v-2h1v-2h2zM1147 579h2v1h2v2h1v2h-1v2h-2v1h-2v-1h-2v-2h-1v-2h1v-2h2zM1147 579h2v1h2v2h1v2h-1v2h-2v1h-2v-1h-2v-2h-1v-2h1v-2h2zM1148 578h2v1h2v2h1v2h-1v2h-2v1h-2v-1h-2v-2h-1v-2h1v-2h2zM1149 578h2v1h2v2h1v2h-1v2h-2v1h-2v-1h-2v-2h-1v-2h1v-2h2zM1149 578h2v1h2v2h1v2h-1v2h-2v1h-2v-1h-2v-2h-1v-2h1v-2h2zM1150 577h2v1h2v2h1v2h-1v2h-2v1h-2v-1h-2v-2h-1v-2h1v-2h2zM1151 577h2v1h2v2h1v2h-1v2h-2v1h-2v-1h-2v-2h-1v-2h1v-2h2zM1151 577h2v1h2v2h1v2h-1v2h-2v1h-2v-1h-2v-2h-1v-2h1v-2h2zM1152 577h2v1h2v2h1v2h-1v2h-2v1h-2v-1h-2v-2h-1v-2h1v-2h2zM1153 577h2v1h2v2h1v2h-1v2h-2v1h-2v-1h-2v-2h-1v-2h1v-2h2zM1153 577h2v1h2v2h1v2h-1v2h-2v1h-2v-1h-2v-2h-1v-2h1v-2h2zM1154 577h2v1h2v2h1v2h-1v2h-2v1h-2v-1h-2v-2h-1v-2h1v-2h2zM1155 577h2v1h2v2h1v2h-1v2h-2v1h-2v-1h-2v-2h-1v-2h1v-2h2zM1155 577h2v1h2v2h1v2h-1v2h-2v1h-2v-1h-2v-2h-1v-2h1v-2h2zM1156 576h2v1h2v2h1v2h-1v2h-2v1h-2v-1h-2v-2h-1v-2h1v-2h2zM1157 576h2v1h2v2h1v2h-1v2h-2v1h-2v-1h-2v-2h-1v-2h1v-2h2zM1157 576h2v1h2v2h1v2h-1v2h-2v1h-2v-1h-2v-2h-1v-2h1v-2h2zM1158 576h2v1h2v2h1v2h-1v2h-2v1h-2v-1h-2v-2h-1v-2h1v-2h2zM1159 576h2v1h2v2h1v2h-1v2h-2v1h-2v-1h-2v-2h-1v-2h1v-2h2zM1159 576h2v1h2v2h1v2h-1v2h-2v1h-2v-1h-2v-2h-1v-2h1v-2h2zM1160 576h2v1h2v2h1v2h-1v2h-2v1h-2v-1h-2v-2h-1v-2h1v-2h2zM1161 576h2v1h2v2h1v2h-1v2h-2v1h-2v-1h-2v-2h-1v-2h1v-2h2zM1161 576h2v1h2v2h1v2h-1v2h-2v1h-2v-1h-2v-2h-1v-2h1v-2h2zM1162 576h2v1h2v2h1v2h-1v2h-2v1h-2v-1h-2v-2h-1v-2h1v-2h2zM1163 576h2v1h2v2h1v2h-1v2h-2v1h-2v-1h-2v-2h-1v-2h1v-2h2zM1163 576h2v1h2v2h1v2h-1v2h-2v1h-2v-1h-2v-2h-1v-2h1v-2h2zM1164 576h2v1h2v2h1v2h-1v2h-2v1h-2v-1h-2v-2h-1v-2h1v-2h2zM1165 576h2v1h2v2h1v2h-1v2h-2v1h-2v-1h-2v-2h-1v-2h1v-2h2zM1165 575h2v1h2v2h1v2h-1v2h-2v1h-2v-1h-2v-2h-1v-2h1v-2h2zM1166 575h2v1h2v2h1v2h-1v2h-2v1h-2v-1h-2v-2h-1v-2h1v-2h2zM1167 575h2v1h2v2h1v2h-1v2h-2v1h-2v-1h-2v-2h-1v-2h1v-2h2zM1168 575h2v1h2v2h1v2h-1v2h-2v1h-2v-1h-2v-2h-1v-2h1v-2h2zM1168 574h2v1h2v2h1v2h-1v2h-2v1h-2v-1h-2v-2h-1v-2h1v-2h2zM1169 574h2v1h2v2h1v2h-1v2h-2v1h-2v-1h-2v-2h-1v-2h1v-2h2zM1170 573h2v1h2v2h1v2h-1v2h-2v1h-2v-1h-2v-2h-1v-2h1v-2h2zM1170 573h2v1h2v2h1v2h-1v2h-2v1h-2v-1h-2v-2h-1v-2h1v-2h2zM1171 573h2v1h2v2h1v2h-1v2h-2v1h-2v-1h-2v-2h-1v-2h1v-2h2zM1172 572h2v1h2v2h1v2h-1v2h-2v1h-2v-1h-2v-2h-1v-2h1v-2h2zM1172 572h2v1h2v2h1v2h-1v2h-2v1h-2v-1h-2v-2h-1v-2h1v-2h2zM1173 571h2v1h2v2h1v2h-1v2h-2v1h-2v-1h-2v-2h-1v-2h1v-2h2zM1174 571h2v1h2v2h1v2h-1v2h-2v1h-2v-1h-2v-2h-1v-2h1v-2h2zM1174 570h2v1h2v2h1v2h-1v2h-2v1h-2v-1h-2v-2h-1v-2h1v-2h2zM1175 570h2v1h2v2h1v2h-1v2h-2v1h-2v-1h-2v-2h-1v-2h1v-2h2zM1176 570h2v1h2v2h1v2h-1v2h-2v1h-2v-1h-2v-2h-1v-2h1v-2h2zM1176 569h2v1h2v2h1v2h-1v2h-2v1h-2v-1h-2v-2h-1v-2h1v-2h2zM1177 569h2v1h2v2h1v2h-1v2h-2v1h-2v-1h-2v-2h-1v-2h1v-2h2zM1178 568h2v1h2v2h1v2h-1v2h-2v1h-2v-1h-2v-2h-1v-2h1v-2h2zM1178 568h2v1h2v2h1v2h-1v2h-2v1h-2v-1h-2v-2h-1v-2h1v-2h2zM1179 568h2v1h2v2h1v2h-1v2h-2v1h-2v-1h-2v-2h-1v-2h1v-2h2zM1180 567h2v1h2v2h1v2h-1v2h-2v1h-2v-1h-2v-2h-1v-2h1v-2h2zM1181 567h2v1h2v2h1v2h-1v2h-2v1h-2v-1h-2v-2h-1v-2h1v-2h2zM1181 567h2v1h2v2h1v2h-1v2h-2v1h-2v-1h-2v-2h-1v-2h1v-2h2zM1182 566h2v1h2v2h1v2h-1v2h-2v1h-2v-1h-2v-2h-1v-2h1v-2h2zM1183 566h2v1h2v2h1v2h-1v2h-2v1h-2v-1h-2v-2h-1v-2h1v-2h2zM1183 565h2v1h2v2h1v2h-1v2h-2v1h-2v-1h-2v-2h-1v-2h1v-2h2zM1184 565h2v1h2v2h1v2h-1v2h-2v1h-2v-1h-2v-2h-1v-2h1v-2h2zM1185 565h2v1h2v2h1v2h-1v2h-2v1h-2v-1h-2v-2h-1v-2h1v-2h2zM1185 564h2v1h2v2h1v2h-1v2h-2v1h-2v-1h-2v-2h-1v-2h1v-2h2zM1186 564h2v1h2v2h1v2h-1v2h-2v1h-2v-1h-2v-2h-1v-2h1v-2h2zM1187 564h2v1h2v2h1v2h-1v2h-2v1h-2v-1h-2v-2h-1v-2h1v-2h2zM1188 563h2v1h2v2h1v2h-1v2h-2v1h-2v-1h-2v-2h-1v-2h1v-2h2zM1188 563h2v1h2v2h1v2h-1v2h-2v1h-2v-1h-2v-2h-1v-2h1v-2h2zM1189 563h2v1h2v2h1v2h-1v2h-2v1h-2v-1h-2v-2h-1v-2h1v-2h2zM1190 562h2v1h2v2h1v2h-1v2h-2v1h-2v-1h-2v-2h-1v-2h1v-2h2zM1190 562h2v1h2v2h1v2h-1v2h-2v1h-2v-1h-2v-2h-1v-2h1v-2h2zM1191 561h2v1h2v2h1v2h-1v2h-2v1h-2v-1h-2v-2h-1v-2h1v-2h2zM1192 561h2v1h2v2h1v2h-1v2h-2v1h-2v-1h-2v-2h-1v-2h1v-2h2zM1193 561h2v1h2v2h1v2h-1v2h-2v1h-2v-1h-2v-2h-1v-2h1v-2h2zM1193 561h2v1h2v2h1v2h-1v2h-2v1h-2v-1h-2v-2h-1v-2h1v-2h2zM1194 560h2v1h2v2h1v2h-1v2h-2v1h-2v-1h-2v-2h-1v-2h1v-2h2zM1195 560h2v1h2v2h1v2h-1v2h-2v1h-2v-1h-2v-2h-1v-2h1v-2h2zM1195 560h2v1h2v2h1v2h-1v2h-2v1h-2v-1h-2v-2h-1v-2h1v-2h2zM1196 560h2v1h2v2h1v2h-1v2h-2v1h-2v-1h-2v-2h-1v-2h1v-2h2zM1197 559h2v1h2v2h1v2h-1v2h-2v1h-2v-1h-2v-2h-1v-2h1v-2h2zM1198 559h2v1h2v2h1v2h-1v2h-2v1h-2v-1h-2v-2h-1v-2h1v-2h2zM1198 559h2v1h2v2h1v2h-1v2h-2v1h-2v-1h-2v-2h-1v-2h1v-2h2zM1199 559h2v1h2v2h1v2h-1v2h-2v1h-2v-1h-2v-2h-1v-2h1v-2h2zM1200 559h2v1h2v2h1v2h-1v2h-2v1h-2v-1h-2v-2h-1v-2h1v-2h2zM1201 558h2v1h2v2h1v2h-1v2h-2v1h-2v-1h-2v-2h-1v-2h1v-2h2zM1201 558h2v1h2v2h1v2h-1v2h-2v1h-2v-1h-2v-2h-1v-2h1v-2h2zM1202 558h2v1h2v2h1v2h-1v2h-2v1h-2v-1h-2v-2h-1v-2h1v-2h2zM1203 558h2v1h2v2h1v2h-1v2h-2v1h-2v-1h-2v-2h-1v-2h1v-2h2zM1204 557h2v1h2v2h1v2h-1v2h-2v1h-2v-1h-2v-2h-1v-2h1v-2h2zM1204 557h2v1h2v2h1v2h-1v2h-2v1h-2v-1h-2v-2h-1v-2h1v-2h2zM1205 557h2v1h2v2h1v2h-1v2h-2v1h-2v-1h-2v-2h-1v-2h1v-2h2zM1206 556h2v1h2v2h1v2h-1v2h-2v1h-2v-1h-2v-2h-1v-2h1v-2h2zM1207 556h2v1h2v2h1v2h-1v2h-2v1h-2v-1h-2v-2h-1v-2h1v-2h2zM1207 556h2v1h2v2h1v2h-1v2h-2v1h-2v-1h-2v-2h-1v-2h1v-2h2zM1208 556h2v1h2v2h1v2h-1v2h-2v1h-2v-1h-2v-2h-1v-2h1v-2h2zM1209 555h2v1h2v2h1v2h-1v2h-2v1h-2v-1h-2v-2h-1v-2h1v-2h2zM1210 555h2v1h2v2h1v2h-1v2h-2v1h-2v-1h-2v-2h-1v-2h1v-2h2zM1211 555h2v1h2v2h1v2h-1v2h-2v1h-2v-1h-2v-2h-1v-2h1v-2h2zM1211 554h2v1h2v2h1v2h-1v2h-2v1h-2v-1h-2v-2h-1v-2h1v-2h2zM1212 554h2v1h2v2h1v2h-1v2h-2v1h-2v-1h-2v-2h-1v-2h1v-2h2zM1213 554h2v1h2v2h1v2h-1v2h-2v1h-2v-1h-2v-2h-1v-2h1v-2h2zM1214 553h2v1h2v2h1v2h-1v2h-2v1h-2v-1h-2v-2h-1v-2h1v-2h2zM1215 553h2v1h2v2h1v2h-1v2h-2v1h-2v-1h-2v-2h-1v-2h1v-2h2zM1215 553h2v1h2v2h1v2h-1v2h-2v1h-2v-1h-2v-2h-1v-2h1v-2h2zM1216 552h2v1h2v2h1v2h-1v2h-2v1h-2v-1h-2v-2h-1v-2h1v-2h2zM1217 552h2v1h2v2h1v2h-1v2h-2v1h-2v-1h-2v-2h-1v-2h1v-2h2zM1218 551h2v1h2v2h1v2h-1v2h-2v1h-2v-1h-2v-2h-1v-2h1v-2h2zM1219 551h2v1h2v2h1v2h-1v2h-2v1h-2v-1h-2v-2h-1v-2h1v-2h2zM1219 551h2v1h2v2h1v2h-1v2h-2v1h-2v-1h-2v-2h-1v-2h1v-2h2zM1220 550h2v1h2v2h1v2h-1v2h-2v1h-2v-1h-2v-2h-1v-2h1v-2h2zM1221 550h2v1h2v2h1v2h-1v2h-2v1h-2v-1h-2v-2h-1v-2h1v-2h2zM1222 549h2v1h2v2h1v2h-1v2h-2v1h-2v-1h-2v-2h-1v-2h1v-2h2zM1223 549h2v1h2v2h1v2h-1v2h-2v1h-2v-1h-2v-2h-1v-2h1v-2h2zM1224 548h2v1h2v2h1v2h-1v2h-2v1h-2v-1h-2v-2h-1v-2h1v-2h2zM1224 548h2v1h2v2h1v2h-1v2h-2v1h-2v-1h-2v-2h-1v-2h1v-2h2zM1225 547h2v1h2v2h1v2h-1v2h-2v1h-2v-1h-2v-2h-1v-2h1v-2h2zM1226 547h2v1h2v2h1v2h-1v2h-2v1h-2v-1h-2v-2h-1v-2h1v-2h2zM1227 546h2v1h2v2h1v2h-1v2h-2v1h-2v-1h-2v-2h-1v-2h1v-2h2zM1228 546h2v1h2v2h1v2h-1v2h-2v1h-2v-1h-2v-2h-1v-2h1v-2h2zM1229 545h2v1h2v2h1v2h-1v2h-2v1h-2v-1h-2v-2h-1v-2h1v-2h2zM1230 545h2v1h2v2h1v2h-1v2h-2v1h-2v-1h-2v-2h-1v-2h1v-2h2zM1231 545h2v1h2v2h1v2h-1v2h-2v1h-2v-1h-2v-2h-1v-2h1v-2h2zM1231 544h2v1h2v2h1v2h-1v2h-2v1h-2v-1h-2v-2h-1v-2h1v-2h2zM1232 544h2v1h2v2h1v2h-1v2h-2v1h-2v-1h-2v-2h-1v-2h1v-2h2zM1233 544h2v1h2v2h1v2h-1v2h-2v1h-2v-1h-2v-2h-1v-2h1v-2h2zM1234 543h2v1h2v2h1v2h-1v2h-2v1h-2v-1h-2v-2h-1v-2h1v-2h2zM1235 543h2v1h2v2h1v2h-1v2h-2v1h-2v-1h-2v-2h-1v-2h1v-2h2zM1236 543h2v1h2v2h1v2h-1v2h-2v1h-2v-1h-2v-2h-1v-2h1v-2h2zM1237 542h2v1h2v2h1v2h-1v2h-2v1h-2v-1h-2v-2h-1v-2h1v-2h2zM1238 542h2v1h2v2h1v2h-1v2h-2v1h-2v-1h-2v-2h-1v-2h1v-2h2zM1239 542h2v1h2v2h1v2h-1v2h-2v1h-2v-1h-2v-2h-1v-2h1v-2h2zM1240 541h2v1h2v2h1v2h-1v2h-2v1h-2v-1h-2v-2h-1v-2h1v-2h2zM1241 541h2v1h2v2h1v2h-1v2h-2v1h-2v-1h-2v-2h-1v-2h1v-2h2zM1242 541h2v1h2v2h1v2h-1v2h-2v1h-2v-1h-2v-2h-1v-2h1v-2h2zM1243 540h2v1h2v2h1v2h-1v2h-2v1h-2v-1h-2v-2h-1v-2h1v-2h2zM1244 540h2v1h2v2h1v2h-1v2h-2v1h-2v-1h-2v-2h-1v-2h1v-2h2zM1245 540h2v1h2v2h1v2h-1v2h-2v1h-2v-1h-2v-2h-1v-2h1v-2h2zM1246 539h2v1h2v2h1v2h-1v2h-2v1h-2v-1h-2v-2h-1v-2h1v-2h2zM1247 539h2v1h2v2h1v2h-1v2h-2v1h-2v-1h-2v-2h-1v-2h1v-2h2zM1248 538h2v1h2v2h1v2h-1v2h-2v1h-2v-1h-2v-2h-1v-2h1v-2h2zM1249 538h2v1h2v2h1v2h-1v2h-2v1h-2v-1h-2v-2h-1v-2h1v-2h2zM1250 538h2v1h2v2h1v2h-1v2h-2v1h-2v-1h-2v-2h-1v-2h1v-2h2zM1251 537h2v1h2v2h1v2h-1v2h-2v1h-2v-1h-2v-2h-1v-2h1v-2h2zM1252 537h2v1h2v2h1v2h-1v2h-2v1h-2v-1h-2v-2h-1v-2h1v-2h2zM1253 537h2v1h2v2h1v2h-1v2h-2v1h-2v-1h-2v-2h-1v-2h1v-2h2zM1254 536h2v1h2v2h1v2h-1v2h-2v1h-2v-1h-2v-2h-1v-2h1v-2h2zM1255 536h2v1h2v2h1v2h-1v2h-2v1h-2v-1h-2v-2h-1v-2h1v-2h2zM1256 535h2v1h2v2h1v2h-1v2h-2v1h-2v-1h-2v-2h-1v-2h1v-2h2zM1257 535h2v1h2v2h1v2h-1v2h-2v1h-2v-1h-2v-2h-1v-2h1v-2h2zM1258 534h2v1h2v2h1v2h-1v2h-2v1h-2v-1h-2v-2h-1v-2h1v-2h2zM1260 533h2v1h2v2h1v2h-1v2h-2v1h-2v-1h-2v-2h-1v-2h1v-2h2zM1261 532h2v1h2v2h1v2h-1v2h-2v1h-2v-1h-2v-2h-1v-2h1v-2h2zM1262 532h2v1h2v2h1v2h-1v2h-2v1h-2v-1h-2v-2h-1v-2h1v-2h2zM1263 531h2v1h2v2h1v2h-1v2h-2v1h-2v-1h-2v-2h-1v-2h1v-2h2zM1264 530h2v1h2v2h1v2h-1v2h-2v1h-2v-1h-2v-2h-1v-2h1v-2h2zM1265 529h2v1h2v2h1v2h-1v2h-2v1h-2v-1h-2v-2h-1v-2h1v-2h2zM1267 528h2v1h2v2h1v2h-1v2h-2v1h-2v-1h-2v-2h-1v-2h1v-2h2zM1268 527h2v1h2v2h1v2h-1v2h-2v1h-2v-1h-2v-2h-1v-2h1v-2h2zM1269 527h2v1h2v2h1v2h-1v2h-2v1h-2v-1h-2v-2h-1v-2h1v-2h2zM1270 526h2v1h2v2h1v2h-1v2h-2v1h-2v-1h-2v-2h-1v-2h1v-2h2zM1272 525h2v1h2v2h1v2h-1v2h-2v1h-2v-1h-2v-2h-1v-2h1v-2h2zM1273 525h2v1h2v2h1v2h-1v2h-2v1h-2v-1h-2v-2h-1v-2h1v-2h2zM1274 524h2v1h2v2h1v2h-1v2h-2v1h-2v-1h-2v-2h-1v-2h1v-2h2zM1276 523h2v1h2v2h1v2h-1v2h-2v1h-2v-1h-2v-2h-1v-2h1v-2h2zM1277 523h2v1h2v2h1v2h-1v2h-2v1h-2v-1h-2v-2h-1v-2h1v-2h2zM1279 522h2v1h2v2h1v2h-1v2h-2v1h-2v-1h-2v-2h-1v-2h1v-2h2zM1280 521h2v1h2v2h1v2h-1v2h-2v1h-2v-1h-2v-2h-1v-2h1v-2h2zM1281 520h2v1h2v2h1v2h-1v2h-2v1h-2v-1h-2v-2h-1v-2h1v-2h2zM1283 519h2v1h2v2h1v2h-1v2h-2v1h-2v-1h-2v-2h-1v-2h1v-2h2zM1284 519h2v1h2v2h1v2h-1v2h-2v1h-2v-1h-2v-2h-1v-2h1v-2h2zM1286 518h2v1h2v2h1v2h-1v2h-2v1h-2v-1h-2v-2h-1v-2h1v-2h2zM1288 517h2v1h2v2h1v2h-1v2h-2v1h-2v-1h-2v-2h-1v-2h1v-2h2zM1289 516h2v1h2v2h1v2h-1v2h-2v1h-2v-1h-2v-2h-1v-2h1v-2h2zM1291 515h2v1h2v2h1v2h-1v2h-2v1h-2v-1h-2v-2h-1v-2h1v-2h2zM1293 514h2v1h2v2h1v2h-1v2h-2v1h-2v-1h-2v-2h-1v-2h1v-2h2zM1294 512h2v1h2v2h1v2h-1v2h-2v1h-2v-1h-2v-2h-1v-2h1v-2h2zM1296 511h2v1h2v2h1v2h-1v2h-2v1h-2v-1h-2v-2h-1v-2h1v-2h2zM1298 510h2v1h2v2h1v2h-1v2h-2v1h-2v-1h-2v-2h-1v-2h1v-2h2zM1300 509h2v1h2v2h1v2h-1v2h-2v1h-2v-1h-2v-2h-1v-2h1v-2h2zM1302 508h2v1h2v2h1v2h-1v2h-2v1h-2v-1h-2v-2h-1v-2h1v-2h2zM1304 506h2v1h2v2h1v2h-1v2h-2v1h-2v-1h-2v-2h-1v-2h1v-2h2zM1306 505h2v1h2v2h1v2h-1v2h-2v1h-2v-1h-2v-2h-1v-2h1v-2h2zM1308 504h2v1h2v2h1v2h-1v2h-2v1h-2v-1h-2v-2h-1v-2h1v-2h2zM1310 502h2v1h2v2h1v2h-1v2h-2v1h-2v-1h-2v-2h-1v-2h1v-2h2zM1312 501h2v1h2v2h1v2h-1v2h-2v1h-2v-1h-2v-2h-1v-2h1v-2h2zM1314 499h2v1h2v2h1v2h-1v2h-2v1h-2v-1h-2v-2h-1v-2h1v-2h2zM1317 498h2v1h2v2h1v2h-1v2h-2v1h-2v-1h-2v-2h-1v-2h1v-2h2zM1319 496h2v1h2v2h1v2h-1v2h-2v1h-2v-1h-2v-2h-1v-2h1v-2h2zM1322 494h2v1h2v2h1v2h-1v2h-2v1h-2v-1h-2v-2h-1v-2h1v-2h2zM1324 492h2v1h2v2h1v2h-1v2h-2v1h-2v-1h-2v-2h-1v-2h1v-2h2zM1327 487h2v1h2v2h1v2h-1v2h-2v1h-2v-1h-2v-2h-1v-2h1v-2h2zM1330 486h2v1h2v2h1v2h-1v2h-2v1h-2v-1h-2v-2h-1v-2h1v-2h2zM1333 485h2v1h2v2h1v2h-1v2h-2v1h-2v-1h-2v-2h-1v-2h1v-2h2zM1337 484h2v1h2v2h1v2h-1v2h-2v1h-2v-1h-2v-2h-1v-2h1v-2h2zM1340 483h2v1h2v2h1v2h-1v2h-2v1h-2v-1h-2v-2h-1v-2h1v-2h2zM1344 482h2v1h2v2h1v2h-1v2h-2v1h-2v-1h-2v-2h-1v-2h1v-2h2zM1348 482h2v1h2v2h1v2h-1v2h-2v1h-2v-1h-2v-2h-1v-2h1v-2h2zM1352 481h2v1h2v2h1v2h-1v2h-2v1h-2v-1h-2v-2h-1v-2h1v-2h2zM1357 480h2v1h2v2h1v2h-1v2h-2v1h-2v-1h-2v-2h-1v-2h1v-2h2zM1362 479h2v1h2v2h1v2h-1v2h-2v1h-2v-1h-2v-2h-1v-2h1v-2h2zM1368 479h2v1h2v2h1v2h-1v2h-2v1h-2v-1h-2v-2h-1v-2h1v-2h2zM1375 478h2v1h2v2h1v2h-1v2h-2v1h-2v-1h-2v-2h-1v-2h1v-2h2zM1382 478h2v1h2v2h1v2h-1v2h-2v1h-2v-1h-2v-2h-1v-2h1v-2h2zM1392 476h2v1h2v2h1v2h-1v2h-2v1h-2v-1h-2v-2h-1v-2h1v-2h2zM1404 443h2v1h2v2h1v2h-1v2h-2v1h-2v-1h-2v-2h-1v-2h1v-2h2zM1422 431h2v1h2v2h1v2h-1v2h-2v1h-2v-1h-2v-2h-1v-2h1v-2h2zM1457 421h2v1h2v2h1v2h-1v2h-2v1h-2v-1h-2v-2h-1v-2h1v-2h2z"/>
<line x1="855.8" y1="701.1" x2="1458.2" y2="460.7" stroke="#0000FF" stroke-width="2.1" shape-rendering="crispEdges"/>
<rect x="820" y="704" width="6" height="2" fill="#333333"/>
<text transform="translate(816,712.8) scale(1.03,1)" text-anchor="end" class="at">-20</text>
<rect x="820" y="642" width="6" height="2" fill="#333333"/>
<text transform="translate(816,650.8) scale(1.03,1)" text-anchor="end" class="at">-10</text>
<rect x="820" y="579" width="6" height="2" fill="#333333"/>
<text transform="translate(816,587.8) scale(1.03,1)" text-anchor="end" class="at">0</text>
<rect x="820" y="517" width="6" height="2" fill="#333333"/>
<text transform="translate(816,525.8) scale(1.03,1)" text-anchor="end" class="at">10</text>
<rect x="820" y="455" width="6" height="2" fill="#333333"/>
<text transform="translate(816,463.8) scale(1.03,1)" text-anchor="end" class="at">20</text>
<rect x="955" y="731" width="2" height="6" fill="#333333"/>
<text transform="translate(956.0,756) scale(1.03,1)" text-anchor="middle" class="at">-2</text>
<rect x="1156" y="731" width="2" height="6" fill="#333333"/>
<text transform="translate(1157.0,756) scale(1.03,1)" text-anchor="middle" class="at">0</text>
<rect x="1357" y="731" width="2" height="6" fill="#333333"/>
<text transform="translate(1358.0,756) scale(1.03,1)" text-anchor="middle" class="at">2</text>
<text transform="translate(1157,784) scale(0.979,1)" text-anchor="middle" class="ax">theoretical</text>
<text transform="translate(780,571) rotate(-90) scale(0.99,1)" text-anchor="middle" class="ax">sample</text>
<rect x="81" y="811" width="657" height="320" fill="#EBEBEB"/>
<rect x="81" y="1053" width="657" height="1" fill="#FFFFFF"/>
<rect x="81" y="962" width="657" height="1" fill="#FFFFFF"/>
<rect x="81" y="872" width="657" height="1" fill="#FFFFFF"/>
<rect x="81" y="1097" width="657" height="2" fill="#FFFFFF"/>
<rect x="81" y="1007" width="657" height="2" fill="#FFFFFF"/>
<rect x="81" y="916" width="657" height="2" fill="#FFFFFF"/>
<rect x="81" y="826" width="657" height="2" fill="#FFFFFF"/>
<rect x="234" y="811" width="2" height="320" fill="#FFFFFF"/>
<rect x="384" y="811" width="2" height="320" fill="#FFFFFF"/>
<rect x="533" y="811" width="2" height="320" fill="#FFFFFF"/>
<rect x="682" y="811" width="2" height="320" fill="#FFFFFF"/>
<rect x="81" y="916" width="657" height="2" fill="#000"/>
<rect x="110" y="917.3" width="2" height="46.4" fill="#000"/>
<rect x="135" y="917.3" width="2" height="199.6" fill="#000"/>
<rect x="160" y="917.3" width="2" height="119.5" fill="#000"/>
<rect x="185" y="917.3" width="2" height="41.3" fill="#000"/>
<rect x="209" y="828.6" width="2" height="88.7" fill="#000"/>
<rect x="234" y="846.7" width="2" height="70.6" fill="#000"/>
<rect x="259" y="917.3" width="2" height="52.6" fill="#000"/>
<rect x="284" y="917.3" width="2" height="74.4" fill="#000"/>
<rect x="309" y="880.5" width="2" height="36.9" fill="#000"/>
<rect x="334" y="903.3" width="2" height="14.0" fill="#000"/>
<rect x="359" y="880.5" width="2" height="36.9" fill="#000"/>
<rect x="384" y="917.3" width="2" height="3.6" fill="#000"/>
<rect x="408" y="888.3" width="2" height="29.0" fill="#000"/>
<rect x="433" y="914.3" width="2" height="3.1" fill="#000"/>
<rect x="458" y="917.3" width="2" height="49.5" fill="#000"/>
<rect x="483" y="917.3" width="2" height="10.6" fill="#000"/>
<rect x="508" y="867.5" width="2" height="49.9" fill="#000"/>
<rect x="533" y="893.4" width="2" height="23.9" fill="#000"/>
<rect x="558" y="917.3" width="2" height="2.3" fill="#000"/>
<rect x="583" y="917.3" width="2" height="53.6" fill="#000"/>
<rect x="608" y="917.3" width="2" height="44.4" fill="#000"/>
<rect x="632" y="917.3" width="2" height="14.4" fill="#000"/>
<rect x="657" y="836.4" width="2" height="80.9" fill="#000"/>
<rect x="682" y="917.3" width="2" height="28.6" fill="#000"/>
<rect x="707" y="917.3" width="2" height="9.9" fill="#000"/>
<rect x="81" y="824" width="8" height="2" fill="#0000FF"/>
<rect x="97" y="824" width="8" height="2" fill="#0000FF"/>
<rect x="113" y="824" width="8" height="2" fill="#0000FF"/>
<rect x="129" y="824" width="8" height="2" fill="#0000FF"/>
<rect x="145" y="824" width="8" height="2" fill="#0000FF"/>
<rect x="161" y="824" width="8" height="2" fill="#0000FF"/>
<rect x="177" y="824" width="8" height="2" fill="#0000FF"/>
<rect x="193" y="824" width="8" height="2" fill="#0000FF"/>
<rect x="209" y="824" width="8" height="2" fill="#0000FF"/>
<rect x="225" y="824" width="8" height="2" fill="#0000FF"/>
<rect x="241" y="824" width="8" height="2" fill="#0000FF"/>
<rect x="257" y="824" width="8" height="2" fill="#0000FF"/>
<rect x="273" y="824" width="8" height="2" fill="#0000FF"/>
<rect x="289" y="824" width="8" height="2" fill="#0000FF"/>
<rect x="305" y="824" width="8" height="2" fill="#0000FF"/>
<rect x="321" y="824" width="8" height="2" fill="#0000FF"/>
<rect x="337" y="824" width="8" height="2" fill="#0000FF"/>
<rect x="353" y="824" width="8" height="2" fill="#0000FF"/>
<rect x="369" y="824" width="8" height="2" fill="#0000FF"/>
<rect x="385" y="824" width="8" height="2" fill="#0000FF"/>
<rect x="401" y="824" width="8" height="2" fill="#0000FF"/>
<rect x="417" y="824" width="8" height="2" fill="#0000FF"/>
<rect x="433" y="824" width="8" height="2" fill="#0000FF"/>
<rect x="449" y="824" width="8" height="2" fill="#0000FF"/>
<rect x="465" y="824" width="8" height="2" fill="#0000FF"/>
<rect x="481" y="824" width="8" height="2" fill="#0000FF"/>
<rect x="497" y="824" width="8" height="2" fill="#0000FF"/>
<rect x="513" y="824" width="8" height="2" fill="#0000FF"/>
<rect x="529" y="824" width="8" height="2" fill="#0000FF"/>
<rect x="545" y="824" width="8" height="2" fill="#0000FF"/>
<rect x="561" y="824" width="8" height="2" fill="#0000FF"/>
<rect x="577" y="824" width="8" height="2" fill="#0000FF"/>
<rect x="593" y="824" width="8" height="2" fill="#0000FF"/>
<rect x="609" y="824" width="8" height="2" fill="#0000FF"/>
<rect x="625" y="824" width="8" height="2" fill="#0000FF"/>
<rect x="641" y="824" width="8" height="2" fill="#0000FF"/>
<rect x="657" y="824" width="8" height="2" fill="#0000FF"/>
<rect x="673" y="824" width="8" height="2" fill="#0000FF"/>
<rect x="689" y="824" width="8" height="2" fill="#0000FF"/>
<rect x="705" y="824" width="8" height="2" fill="#0000FF"/>
<rect x="721" y="824" width="8" height="2" fill="#0000FF"/>
<rect x="737" y="824" width="1" height="2" fill="#0000FF"/>
<rect x="81" y="1008" width="8" height="2" fill="#0000FF"/>
<rect x="97" y="1008" width="8" height="2" fill="#0000FF"/>
<rect x="113" y="1008" width="8" height="2" fill="#0000FF"/>
<rect x="129" y="1008" width="8" height="2" fill="#0000FF"/>
<rect x="145" y="1008" width="8" height="2" fill="#0000FF"/>
<rect x="161" y="1008" width="8" height="2" fill="#0000FF"/>
<rect x="177" y="1008" width="8" height="2" fill="#0000FF"/>
<rect x="193" y="1008" width="8" height="2" fill="#0000FF"/>
<rect x="209" y="1008" width="8" height="2" fill="#0000FF"/>
<rect x="225" y="1008" width="8" height="2" fill="#0000FF"/>
<rect x="241" y="1008" width="8" height="2" fill="#0000FF"/>
<rect x="257" y="1008" width="8" height="2" fill="#0000FF"/>
<rect x="273" y="1008" width="8" height="2" fill="#0000FF"/>
<rect x="289" y="1008" width="8" height="2" fill="#0000FF"/>
<rect x="305" y="1008" width="8" height="2" fill="#0000FF"/>
<rect x="321" y="1008" width="8" height="2" fill="#0000FF"/>
<rect x="337" y="1008" width="8" height="2" fill="#0000FF"/>
<rect x="353" y="1008" width="8" height="2" fill="#0000FF"/>
<rect x="369" y="1008" width="8" height="2" fill="#0000FF"/>
<rect x="385" y="1008" width="8" height="2" fill="#0000FF"/>
<rect x="401" y="1008" width="8" height="2" fill="#0000FF"/>
<rect x="417" y="1008" width="8" height="2" fill="#0000FF"/>
<rect x="433" y="1008" width="8" height="2" fill="#0000FF"/>
<rect x="449" y="1008" width="8" height="2" fill="#0000FF"/>
<rect x="465" y="1008" width="8" height="2" fill="#0000FF"/>
<rect x="481" y="1008" width="8" height="2" fill="#0000FF"/>
<rect x="497" y="1008" width="8" height="2" fill="#0000FF"/>
<rect x="513" y="1008" width="8" height="2" fill="#0000FF"/>
<rect x="529" y="1008" width="8" height="2" fill="#0000FF"/>
<rect x="545" y="1008" width="8" height="2" fill="#0000FF"/>
<rect x="561" y="1008" width="8" height="2" fill="#0000FF"/>
<rect x="577" y="1008" width="8" height="2" fill="#0000FF"/>
<rect x="593" y="1008" width="8" height="2" fill="#0000FF"/>
<rect x="609" y="1008" width="8" height="2" fill="#0000FF"/>
<rect x="625" y="1008" width="8" height="2" fill="#0000FF"/>
<rect x="641" y="1008" width="8" height="2" fill="#0000FF"/>
<rect x="657" y="1008" width="8" height="2" fill="#0000FF"/>
<rect x="673" y="1008" width="8" height="2" fill="#0000FF"/>
<rect x="689" y="1008" width="8" height="2" fill="#0000FF"/>
<rect x="705" y="1008" width="8" height="2" fill="#0000FF"/>
<rect x="721" y="1008" width="8" height="2" fill="#0000FF"/>
<rect x="737" y="1008" width="1" height="2" fill="#0000FF"/>
<rect x="75" y="1097" width="6" height="2" fill="#333333"/>
<text transform="translate(71,1105.8) scale(1.03,1)" text-anchor="end" class="at">-0.2</text>
<rect x="75" y="1007" width="6" height="2" fill="#333333"/>
<text transform="translate(71,1015.5) scale(1.03,1)" text-anchor="end" class="at">-0.1</text>
<rect x="75" y="916" width="6" height="2" fill="#333333"/>
<text transform="translate(71,925.1) scale(1.03,1)" text-anchor="end" class="at">0.0</text>
<rect x="75" y="826" width="6" height="2" fill="#333333"/>
<text transform="translate(71,834.8) scale(1.03,1)" text-anchor="end" class="at">0.1</text>
<rect x="234" y="1131" width="2" height="6" fill="#333333"/>
<text transform="translate(235.3,1156) scale(1.03,1)" text-anchor="middle" class="at">6</text>
<rect x="384" y="1131" width="2" height="6" fill="#333333"/>
<text transform="translate(384.6,1156) scale(1.03,1)" text-anchor="middle" class="at">12</text>
<rect x="533" y="1131" width="2" height="6" fill="#333333"/>
<text transform="translate(533.9,1156) scale(1.03,1)" text-anchor="middle" class="at">18</text>
<rect x="682" y="1131" width="2" height="6" fill="#333333"/>
<text transform="translate(683.2,1156) scale(1.03,1)" text-anchor="middle" class="at">24</text>
<text transform="translate(409.5,1184) scale(0.979,1)" text-anchor="middle" class="ax">Lag</text>
<text transform="translate(30,971) rotate(-90) scale(0.99,1)" text-anchor="middle" class="ax">ACF</text>
<rect x="831" y="811" width="657" height="320" fill="#EBEBEB"/>
<rect x="831" y="1050" width="657" height="1" fill="#FFFFFF"/>
<rect x="831" y="961" width="657" height="1" fill="#FFFFFF"/>
<rect x="831" y="872" width="657" height="1" fill="#FFFFFF"/>
<rect x="831" y="1094" width="657" height="2" fill="#FFFFFF"/>
<rect x="831" y="1005" width="657" height="2" fill="#FFFFFF"/>
<rect x="831" y="915" width="657" height="2" fill="#FFFFFF"/>
<rect x="831" y="826" width="657" height="2" fill="#FFFFFF"/>
<rect x="984" y="811" width="2" height="320" fill="#FFFFFF"/>
<rect x="1134" y="811" width="2" height="320" fill="#FFFFFF"/>
<rect x="1283" y="811" width="2" height="320" fill="#FFFFFF"/>
<rect x="1432" y="811" width="2" height="320" fill="#FFFFFF"/>
<rect x="831" y="915" width="657" height="2" fill="#000"/>
<rect x="860" y="916.3" width="2" height="45.4" fill="#000"/>
<rect x="885" y="916.3" width="2" height="200.5" fill="#000"/>
<rect x="910" y="916.3" width="2" height="149.4" fill="#000"/>
<rect x="935" y="916.3" width="2" height="116.2" fill="#000"/>
<rect x="959" y="905.4" width="2" height="10.9" fill="#000"/>
<rect x="984" y="889.4" width="2" height="27.0" fill="#000"/>
<rect x="1009" y="916.3" width="2" height="41.6" fill="#000"/>
<rect x="1034" y="916.3" width="2" height="53.5" fill="#000"/>
<rect x="1059" y="886.3" width="2" height="30.0" fill="#000"/>
<rect x="1084" y="916.3" width="2" height="14.3" fill="#000"/>
<rect x="1109" y="891.1" width="2" height="25.2" fill="#000"/>
<rect x="1134" y="911.2" width="2" height="5.1" fill="#000"/>
<rect x="1158" y="850.5" width="2" height="65.8" fill="#000"/>
<rect x="1183" y="889.4" width="2" height="27.0" fill="#000"/>
<rect x="1208" y="916.3" width="2" height="28.7" fill="#000"/>
<rect x="1233" y="916.3" width="2" height="4.5" fill="#000"/>
<rect x="1258" y="871.3" width="2" height="45.0" fill="#000"/>
<rect x="1283" y="898.3" width="2" height="18.0" fill="#000"/>
<rect x="1308" y="902.4" width="2" height="13.9" fill="#000"/>
<rect x="1333" y="916.3" width="2" height="29.7" fill="#000"/>
<rect x="1358" y="916.3" width="2" height="29.7" fill="#000"/>
<rect x="1382" y="916.3" width="2" height="55.6" fill="#000"/>
<rect x="1407" y="884.3" width="2" height="32.1" fill="#000"/>
<rect x="1432" y="916.3" width="2" height="56.6" fill="#000"/>
<rect x="1457" y="913.3" width="2" height="3.0" fill="#000"/>
<rect x="831" y="824" width="8" height="2" fill="#0000FF"/>
<rect x="847" y="824" width="8" height="2" fill="#0000FF"/>
<rect x="863" y="824" width="8" height="2" fill="#0000FF"/>
<rect x="879" y="824" width="8" height="2" fill="#0000FF"/>
<rect x="895" y="824" width="8" height="2" fill="#0000FF"/>
<rect x="911" y="824" width="8" height="2" fill="#0000FF"/>
<rect x="927" y="824" width="8" height="2" fill="#0000FF"/>
<rect x="943" y="824" width="8" height="2" fill="#0000FF"/>
<rect x="959" y="824" width="8" height="2" fill="#0000FF"/>
<rect x="975" y="824" width="8" height="2" fill="#0000FF"/>
<rect x="991" y="824" width="8" height="2" fill="#0000FF"/>
<rect x="1007" y="824" width="8" height="2" fill="#0000FF"/>
<rect x="1023" y="824" width="8" height="2" fill="#0000FF"/>
<rect x="1039" y="824" width="8" height="2" fill="#0000FF"/>
<rect x="1055" y="824" width="8" height="2" fill="#0000FF"/>
<rect x="1071" y="824" width="8" height="2" fill="#0000FF"/>
<rect x="1087" y="824" width="8" height="2" fill="#0000FF"/>
<rect x="1103" y="824" width="8" height="2" fill="#0000FF"/>
<rect x="1119" y="824" width="8" height="2" fill="#0000FF"/>
<rect x="1135" y="824" width="8" height="2" fill="#0000FF"/>
<rect x="1151" y="824" width="8" height="2" fill="#0000FF"/>
<rect x="1167" y="824" width="8" height="2" fill="#0000FF"/>
<rect x="1183" y="824" width="8" height="2" fill="#0000FF"/>
<rect x="1199" y="824" width="8" height="2" fill="#0000FF"/>
<rect x="1215" y="824" width="8" height="2" fill="#0000FF"/>
<rect x="1231" y="824" width="8" height="2" fill="#0000FF"/>
<rect x="1247" y="824" width="8" height="2" fill="#0000FF"/>
<rect x="1263" y="824" width="8" height="2" fill="#0000FF"/>
<rect x="1279" y="824" width="8" height="2" fill="#0000FF"/>
<rect x="1295" y="824" width="8" height="2" fill="#0000FF"/>
<rect x="1311" y="824" width="8" height="2" fill="#0000FF"/>
<rect x="1327" y="824" width="8" height="2" fill="#0000FF"/>
<rect x="1343" y="824" width="8" height="2" fill="#0000FF"/>
<rect x="1359" y="824" width="8" height="2" fill="#0000FF"/>
<rect x="1375" y="824" width="8" height="2" fill="#0000FF"/>
<rect x="1391" y="824" width="8" height="2" fill="#0000FF"/>
<rect x="1407" y="824" width="8" height="2" fill="#0000FF"/>
<rect x="1423" y="824" width="8" height="2" fill="#0000FF"/>
<rect x="1439" y="824" width="8" height="2" fill="#0000FF"/>
<rect x="1455" y="824" width="8" height="2" fill="#0000FF"/>
<rect x="1471" y="824" width="8" height="2" fill="#0000FF"/>
<rect x="1487" y="824" width="1" height="2" fill="#0000FF"/>
<rect x="831" y="1006" width="8" height="2" fill="#0000FF"/>
<rect x="847" y="1006" width="8" height="2" fill="#0000FF"/>
<rect x="863" y="1006" width="8" height="2" fill="#0000FF"/>
<rect x="879" y="1006" width="8" height="2" fill="#0000FF"/>
<rect x="895" y="1006" width="8" height="2" fill="#0000FF"/>
<rect x="911" y="1006" width="8" height="2" fill="#0000FF"/>
<rect x="927" y="1006" width="8" height="2" fill="#0000FF"/>
<rect x="943" y="1006" width="8" height="2" fill="#0000FF"/>
<rect x="959" y="1006" width="8" height="2" fill="#0000FF"/>
<rect x="975" y="1006" width="8" height="2" fill="#0000FF"/>
<rect x="991" y="1006" width="8" height="2" fill="#0000FF"/>
<rect x="1007" y="1006" width="8" height="2" fill="#0000FF"/>
<rect x="1023" y="1006" width="8" height="2" fill="#0000FF"/>
<rect x="1039" y="1006" width="8" height="2" fill="#0000FF"/>
<rect x="1055" y="1006" width="8" height="2" fill="#0000FF"/>
<rect x="1071" y="1006" width="8" height="2" fill="#0000FF"/>
<rect x="1087" y="1006" width="8" height="2" fill="#0000FF"/>
<rect x="1103" y="1006" width="8" height="2" fill="#0000FF"/>
<rect x="1119" y="1006" width="8" height="2" fill="#0000FF"/>
<rect x="1135" y="1006" width="8" height="2" fill="#0000FF"/>
<rect x="1151" y="1006" width="8" height="2" fill="#0000FF"/>
<rect x="1167" y="1006" width="8" height="2" fill="#0000FF"/>
<rect x="1183" y="1006" width="8" height="2" fill="#0000FF"/>
<rect x="1199" y="1006" width="8" height="2" fill="#0000FF"/>
<rect x="1215" y="1006" width="8" height="2" fill="#0000FF"/>
<rect x="1231" y="1006" width="8" height="2" fill="#0000FF"/>
<rect x="1247" y="1006" width="8" height="2" fill="#0000FF"/>
<rect x="1263" y="1006" width="8" height="2" fill="#0000FF"/>
<rect x="1279" y="1006" width="8" height="2" fill="#0000FF"/>
<rect x="1295" y="1006" width="8" height="2" fill="#0000FF"/>
<rect x="1311" y="1006" width="8" height="2" fill="#0000FF"/>
<rect x="1327" y="1006" width="8" height="2" fill="#0000FF"/>
<rect x="1343" y="1006" width="8" height="2" fill="#0000FF"/>
<rect x="1359" y="1006" width="8" height="2" fill="#0000FF"/>
<rect x="1375" y="1006" width="8" height="2" fill="#0000FF"/>
<rect x="1391" y="1006" width="8" height="2" fill="#0000FF"/>
<rect x="1407" y="1006" width="8" height="2" fill="#0000FF"/>
<rect x="1423" y="1006" width="8" height="2" fill="#0000FF"/>
<rect x="1439" y="1006" width="8" height="2" fill="#0000FF"/>
<rect x="1455" y="1006" width="8" height="2" fill="#0000FF"/>
<rect x="1471" y="1006" width="8" height="2" fill="#0000FF"/>
<rect x="1487" y="1006" width="1" height="2" fill="#0000FF"/>
<rect x="825" y="1094" width="6" height="2" fill="#333333"/>
<text transform="translate(821,1102.8) scale(1.03,1)" text-anchor="end" class="at">-0.2</text>
<rect x="825" y="1005" width="6" height="2" fill="#333333"/>
<text transform="translate(821,1013.5) scale(1.03,1)" text-anchor="end" class="at">-0.1</text>
<rect x="825" y="915" width="6" height="2" fill="#333333"/>
<text transform="translate(821,924.1) scale(1.03,1)" text-anchor="end" class="at">0.0</text>
<rect x="825" y="826" width="6" height="2" fill="#333333"/>
<text transform="translate(821,834.8) scale(1.03,1)" text-anchor="end" class="at">0.1</text>
<rect x="984" y="1131" width="2" height="6" fill="#333333"/>
<text transform="translate(985.3,1156) scale(1.03,1)" text-anchor="middle" class="at">6</text>
<rect x="1134" y="1131" width="2" height="6" fill="#333333"/>
<text transform="translate(1134.6,1156) scale(1.03,1)" text-anchor="middle" class="at">12</text>
<rect x="1283" y="1131" width="2" height="6" fill="#333333"/>
<text transform="translate(1283.9,1156) scale(1.03,1)" text-anchor="middle" class="at">18</text>
<rect x="1432" y="1131" width="2" height="6" fill="#333333"/>
<text transform="translate(1433.2,1156) scale(1.03,1)" text-anchor="middle" class="at">24</text>
<text transform="translate(1159.5,1184) scale(0.979,1)" text-anchor="middle" class="ax">Lag</text>
<text transform="translate(780,971) rotate(-90) scale(0.99,1)" text-anchor="middle" class="ax">PACF</text>
</svg></body></html>
